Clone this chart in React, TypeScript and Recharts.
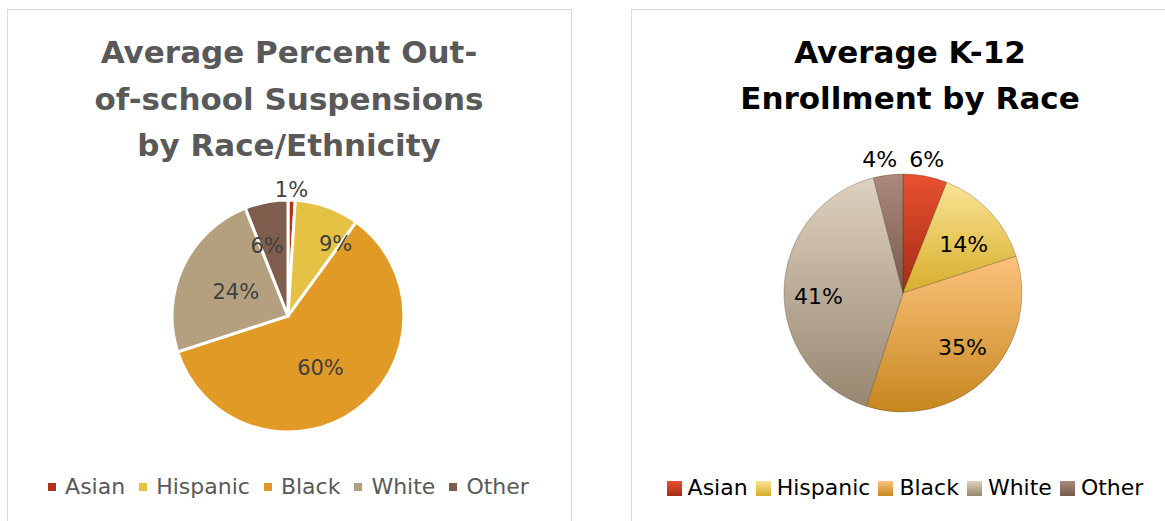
import React from 'react';
import { PieChart, Pie, Cell, Legend } from 'recharts';

// ---- data ----
const CATEGORIES = ['Asian', 'Hispanic', 'Black', 'White', 'Other'];
const SUSPENSION_PCT = [1, 9, 60, 24, 6];
const ENROLLMENT_PCT = [6, 14, 35, 41, 4];
const LEFT_TITLE = ['Average Percent Out-', 'of-school Suspensions', 'by Race/Ethnicity'];
const RIGHT_TITLE = ['Average K-12', 'Enrollment by Race'];

// ---- styles ----
const LEFT_COLORS = ['#b3321a', '#e6c244', '#e29a27', '#b4a07f', '#7e5d4c'];
const RIGHT_GRADIENTS: [string, string][] = [
  ['#e8512f', '#a62b16'],
  ['#fbe396', '#d6ae2a'],
  ['#fcc27c', '#c6871e'],
  ['#ded1bf', '#978670'],
  ['#ab8a7d', '#775a4b'],
];
// label placement (offset from centre, in units of the radius)
const LEFT_LABEL_OFFSETS: [number, number][] = [
  [0.03, -1.09], [0.41, -0.62], [0.28, 0.45], [-0.45, -0.21], [-0.18, -0.6],
];
const RIGHT_LABEL_OFFSETS: [number, number][] = [
  [0.2, -1.12], [0.51, -0.41], [0.5, 0.46], [-0.71, 0.03], [-0.195, -1.12],
];

const FONT = '"DejaVu Sans", sans-serif';

const suspensionData = CATEGORIES.map((name, i) => ({ name, value: SUSPENSION_PCT[i] }));
const enrollmentData = CATEGORIES.map((name, i) => ({ name, value: ENROLLMENT_PCT[i] }));

const makeLabel = (offsets: [number, number][], color: string, size: number) => (props: any) => {
  const { cx, cy, outerRadius, index, value } = props;
  const [dx, dy] = offsets[index];
  return (
    <text
      x={cx + dx * outerRadius}
      y={cy + dy * outerRadius}
      textAnchor="middle"
      dominantBaseline="central"
      fill={color}
      fontSize={size}
      fontFamily={FONT}
    >
      {`${value}%`}
    </text>
  );
};

const LegendRow = ({ swatches, textColor, sq, gapIn, gapOut }: { swatches: string[]; textColor: string; sq: number; gapIn: number; gapOut: number }) => (
  <div
    style={{
      display: 'flex',
      justifyContent: 'center',
      alignItems: 'center',
      fontFamily: FONT,
      fontSize: 22,
      color: textColor,
      whiteSpace: 'nowrap',
    }}
  >
    {CATEGORIES.map((c, i) => (
      <div key={c} style={{ display: 'flex', alignItems: 'center', marginRight: i < CATEGORIES.length - 1 ? gapOut : 0 }}>
        <div style={{ width: sq, height: sq, background: swatches[i], marginRight: gapIn }} />
        <span style={{ lineHeight: '26px' }}>{c}</span>
      </div>
    ))}
  </div>
);

export default function App() {
  const rightSwatches = RIGHT_GRADIENTS.map(([a, b]) => `linear-gradient(${a}, ${b})`);
  return (
    <div style={{ position: 'absolute', left: 0, top: 0, width: 1165, height: 521, overflow: 'hidden', background: '#fff' }}>
      {/* panels */}
      <div style={{ position: 'absolute', left: 7, top: 9, width: 563, height: 540, border: '1px solid #d9d9d9' }} />
      <div style={{ position: 'absolute', left: 631, top: 9, width: 600, height: 540, border: '1px solid #d9d9d9' }} />

      {/* titles */}
      <div
        style={{
          position: 'absolute', left: 7, top: 29, width: 564, textAlign: 'center',
          fontFamily: FONT, fontWeight: 'bold', fontSize: 31, lineHeight: '46.5px', color: '#595959',
        }}
      >
        {LEFT_TITLE.map((t) => (
          <div key={t} style={{ whiteSpace: 'nowrap' }}>{t}</div>
        ))}
      </div>
      <div
        style={{
          position: 'absolute', left: 631, top: 29, width: 558, textAlign: 'center',
          fontFamily: FONT, fontWeight: 'bold', fontSize: 31, lineHeight: '46px', color: '#000',
        }}
      >
        {RIGHT_TITLE.map((t) => (
          <div key={t} style={{ whiteSpace: 'nowrap' }}>{t}</div>
        ))}
      </div>

      {/* left chart */}
      <div style={{ position: 'absolute', left: 0, top: 0 }}>
        <PieChart width={600} height={521} margin={{ top: 0, right: 0, bottom: 0, left: 0 }}>
          <Pie
            data={suspensionData}
            dataKey="value"
            nameKey="name"
            cx={288}
            cy={316}
            outerRadius={116}
            startAngle={90}
            endAngle={-270}
            stroke="#ffffff"
            strokeWidth={3}
            labelLine={false}
            label={makeLabel(LEFT_LABEL_OFFSETS, '#404040', 21)}
            isAnimationActive={false}
          >
            {suspensionData.map((d, i) => (
              <Cell key={d.name} fill={LEFT_COLORS[i]} />
            ))}
          </Pie>
          <Legend
            verticalAlign="bottom"
            wrapperStyle={{ left: 0, top: 474, width: 577, bottom: 'auto' }}
            content={() => <LegendRow swatches={LEFT_COLORS} textColor="#595959" sq={8} gapIn={9} gapOut={14} />}
          />
        </PieChart>
      </div>

      {/* right chart */}
      <div style={{ position: 'absolute', left: 600, top: 0 }}>
        <PieChart width={565} height={521} margin={{ top: 0, right: 0, bottom: 0, left: 0 }}>
          <defs>
            {RIGHT_GRADIENTS.map(([a, b], i) => (
              <linearGradient key={i} id={`rg${i}`} x1="0" y1="0" x2="0" y2="1">
                <stop offset="0%" stopColor={a} />
                <stop offset="100%" stopColor={b} />
              </linearGradient>
            ))}
          </defs>
          <Pie
            data={enrollmentData}
            dataKey="value"
            nameKey="name"
            cx={303}
            cy={293}
            outerRadius={119}
            startAngle={90}
            endAngle={-270}
            stroke="rgba(60,40,20,0.35)"
            strokeWidth={0.8}
            labelLine={false}
            label={makeLabel(RIGHT_LABEL_OFFSETS, '#000000', 22)}
            isAnimationActive={false}
          >
            {enrollmentData.map((d, i) => (
              <Cell key={d.name} fill={`url(#rg${i})`} />
            ))}
          </Pie>
          <Legend
            verticalAlign="bottom"
            wrapperStyle={{ left: 0, top: 475, width: 610, bottom: 'auto' }}
            content={() => <LegendRow swatches={rightSwatches} textColor="#000" sq={15} gapIn={6} gapOut={8} />}
          />
        </PieChart>
      </div>
    </div>
  );
}
